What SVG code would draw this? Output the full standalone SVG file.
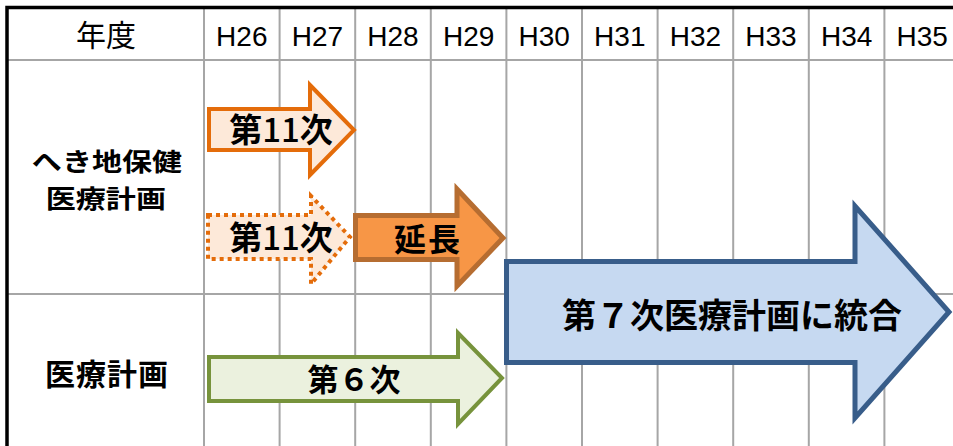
<svg xmlns="http://www.w3.org/2000/svg" width="953" height="446" viewBox="0 0 953 446">
<style>
.grid{stroke:#A6A6A6;stroke-width:2;fill:none}
.hdr{font-family:"Liberation Sans",Arial,sans-serif;font-size:28px;fill:#000;text-anchor:middle}
.jp{font-family:"Noto Sans CJK JP",sans-serif;fill:#000;text-anchor:middle}
.b{font-weight:bold}
.n{font-weight:500}
.ar{stroke-linejoin:miter;stroke-miterlimit:10}
</style>
<rect width="953" height="446" fill="#fff"/>
<g id="grid">
<path class="grid" d="M204,7V446M279.6,7V446M355.2,7V446M430.8,7V446M506.4,7V446M582,7V446M657.6,7V446M733.2,7V446M808.8,7V446M884.4,7V446M7,60H953M7,294H953"/>
<path d="M7,446V7.5H953" fill="none" stroke="#000" stroke-width="3.5"/>
</g>
<g id="header">
<text class="jp" x="106" y="46" font-size="30">年度</text>
<text class="hdr" x="241.8" y="46">H26</text>
<text class="hdr" x="317.4" y="46">H27</text>
<text class="hdr" x="393" y="46">H28</text>
<text class="hdr" x="468.6" y="46">H29</text>
<text class="hdr" x="544.2" y="46">H30</text>
<text class="hdr" x="619.8" y="46">H31</text>
<text class="hdr" x="695.4" y="46">H32</text>
<text class="hdr" x="771" y="46">H33</text>
<text class="hdr" x="846.6" y="46">H34</text>
<text class="hdr" x="922.2" y="46">H35</text>
</g>
<g id="label-hekichi" transform="matrix(1.18 0 0 1 107 0)">
<text class="jp b" x="0" y="171" font-size="25.5">へき地保健</text>
<text class="jp b" x="-1" y="208" font-size="25.5">医療計画</text>
</g>
<g id="label-iryo">
<text class="jp b" x="107" y="385" font-size="30" letter-spacing="1">医療計画</text>
</g>
<g id="connectors">
<g id="arrow-11a">
<polygon class="ar" points="209,109 310,109 310,85 354,130 310,175 310,150 209,150" fill="#FDE9D9" stroke="#E46C0A" stroke-width="4"/>
<text class="jp b" x="281" y="142" font-size="33">第<tspan class="n">11</tspan>次</text>
</g>
<g id="arrow-11b">
<polygon class="ar" points="208,215 311,215 311,196 350,237 311,284 311,259 208,259" fill="#FDE9D9" stroke="#E46C0A" stroke-width="4" stroke-dasharray="4 4"/>
<text class="jp b" x="281" y="250" font-size="33">第<tspan class="n">11</tspan>次</text>
</g>
<g id="arrow-encho">
<polygon class="ar" points="355.5,215.5 457,215.5 457,189 503,238 457,286 457,259.5 355.5,259.5" fill="#F79646" stroke="#B66D31" stroke-width="5"/>
<text class="jp b" x="428" y="251" font-size="32" letter-spacing="2">延長</text>
</g>
<g id="arrow-6">
<polygon class="ar" points="209,357 458,357 458,333 502,378 458,424 458,401 209,401" fill="#EBF1DE" stroke="#77933C" stroke-width="4"/>
<text class="jp b" x="354" y="391" font-size="31">第６次</text>
</g>
<g id="arrow-7">
<polygon class="ar" points="506.5,261.5 855,261.5 855,206 949,312 855,418 855,362.5 506.5,362.5" fill="#C6D9F1" stroke="#385D8A" stroke-width="5"/>
<text class="jp b" x="732" y="328" font-size="34">第７次医療計画に統合</text>
</g>
</g>
</svg>
